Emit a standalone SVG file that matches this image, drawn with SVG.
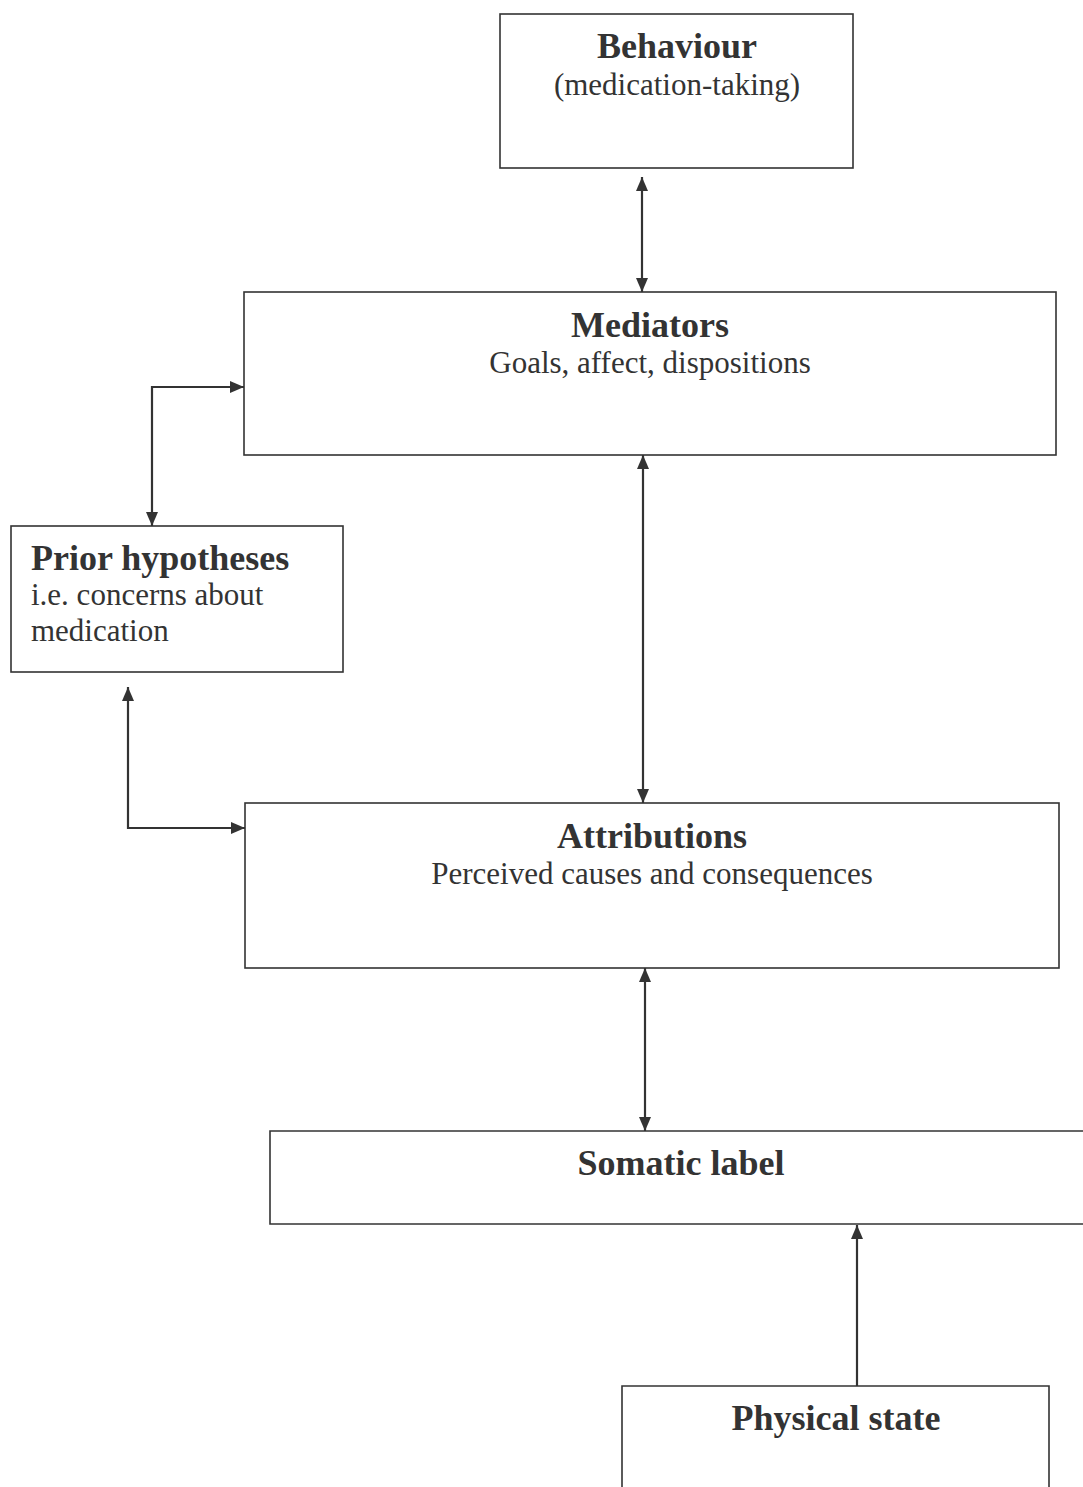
<svg xmlns="http://www.w3.org/2000/svg" width="1083" height="1487" viewBox="0 0 1083 1487">
<style>
.box{fill:#fff;stroke:#333;stroke-width:1.6}
.con{fill:none;stroke:#333;stroke-width:2.2}
.t{font-family:"Liberation Serif","Times New Roman",serif;fill:#333}
.b{font-weight:bold;font-size:36px}
.r{font-size:31px}
.c{text-anchor:middle}
</style>
<defs>
<marker id="ah" viewBox="0 0 14 14" refX="14" refY="7" markerWidth="14" markerHeight="14" markerUnits="userSpaceOnUse" orient="auto-start-reverse">
<path d="M0,1 L14,7 L0,13 Z" fill="#333"/>
</marker>
</defs>
<rect width="1083" height="1487" fill="#fff"/>
<g id="connectors">
<line class="con" x1="642" y1="177" x2="642" y2="292" marker-start="url(#ah)" marker-end="url(#ah)"/>
<path class="con" d="M244,387 H152 V526" marker-start="url(#ah)" marker-end="url(#ah)"/>
<line class="con" x1="643" y1="455" x2="643" y2="803" marker-start="url(#ah)" marker-end="url(#ah)"/>
<path class="con" d="M128,687 V828 H245" marker-start="url(#ah)" marker-end="url(#ah)"/>
<line class="con" x1="645" y1="968" x2="645" y2="1131" marker-start="url(#ah)" marker-end="url(#ah)"/>
<line class="con" x1="857" y1="1386" x2="857" y2="1225" marker-end="url(#ah)"/>
</g>
<g id="behaviour">
<rect class="box" x="500" y="14" width="353" height="154"/>
<text class="t b c" x="677" y="58">Behaviour</text>
<text class="t r c" x="677" y="95">(medication-taking)</text>
</g>
<g id="mediators">
<rect class="box" x="244" y="292" width="812" height="163"/>
<text class="t b c" x="650" y="337">Mediators</text>
<text class="t r c" x="650" y="373">Goals, affect, dispositions</text>
</g>
<g id="prior">
<rect class="box" x="11" y="526" width="332" height="146"/>
<text class="t b" x="31" y="570">Prior hypotheses</text>
<text class="t r" x="31" y="605">i.e. concerns about</text>
<text class="t r" x="31" y="641">medication</text>
</g>
<g id="attributions">
<rect class="box" x="245" y="803" width="814" height="165"/>
<text class="t b c" x="652" y="848">Attributions</text>
<text class="t r c" x="652" y="884">Perceived causes and consequences</text>
</g>
<g id="somatic">
<path class="box" d="M1083,1131 H270 V1224 H1083"/>
<text class="t b c" x="681" y="1175">Somatic label</text>
</g>
<g id="physical">
<path class="box" d="M622,1490 V1386 H1049 V1490"/>
<text class="t b c" x="836" y="1430">Physical state</text>
</g>
</svg>
